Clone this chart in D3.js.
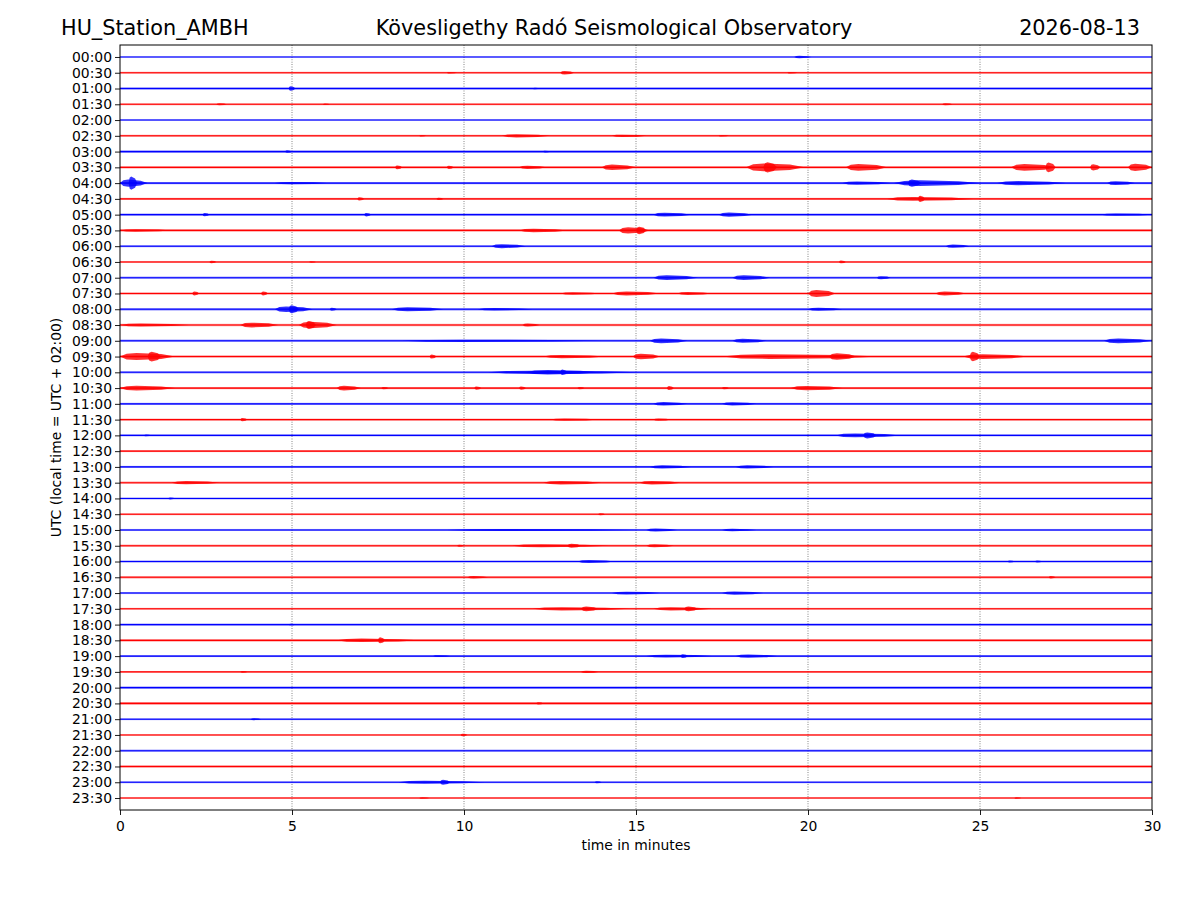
<!DOCTYPE html>
<html>
<head>
<meta charset="utf-8">
<script src="https://cdn.jsdelivr.net/npm/d3@7"></script>
<style>
  body { margin: 0; background: #fff; }
  text { font-family: "DejaVu Sans", sans-serif; }
</style>
</head>
<body>
<script>
(function() {

	var width = 1200;
	var height = 900;
	var margin = {top: 45, right: 48, bottom: 90, left: 120};

	// row labels (UTC start of each 30 minute line)
	var timeLabels = ["00:00","00:30","01:00","01:30","02:00","02:30","03:00","03:30",
		"04:00","04:30","05:00","05:30","06:00","06:30","07:00","07:30",
		"08:00","08:30","09:00","09:30","10:00","10:30","11:00","11:30",
		"12:00","12:30","13:00","13:30","14:00","14:30","15:00","15:30",
		"16:00","16:30","17:00","17:30","18:00","18:30","19:00","19:30",
		"20:00","20:30","21:00","21:30","22:00","22:30","23:00","23:30"];
	var minuteTicks = [0, 5, 10, 15, 20, 25, 30];
	var traceColors = ["#0000ff", "#ff0000"];

	// background noise level of each line (fraction of half line spacing)
	var noise = [0.08,0.12,0.16,0.12,0.09,0.13,0.16,0.14,
		0.14,0.13,0.14,0.15,0.13,0.12,0.14,0.14,
		0.16,0.15,0.15,0.15,0.14,0.14,0.13,0.12,
		0.12,0.12,0.13,0.14,0.12,0.12,0.13,0.14,
		0.13,0.15,0.13,0.12,0.13,0.15,0.12,0.1,
		0.15,0.17,0.12,0.1,0.14,0.16,0.12,0.1];

	// bursts: [row, start minute, end minute, amplitude]
	var bursts = [
		[0, 19.6, 20.1, 0.15],
		[1, 12.8, 13.2, 0.22], [1, 9.5, 9.8, 0.1], [1, 19.4, 19.7, 0.1],
		[2, 4.9, 5.1, 0.28], [2, 12.0, 12.2, 0.1],
		[3, 2.8, 3.1, 0.12], [3, 5.9, 6.1, 0.1], [3, 23.9, 24.2, 0.12],
		[5, 11.1, 12.5, 0.2], [5, 8.7, 8.9, 0.1], [5, 14.3, 15.3, 0.15], [5, 17.4, 17.7, 0.1],
		[6, 4.8, 5.0, 0.16], [6, 12.3, 12.5, 0.12],
		[7, 8.0, 8.2, 0.25], [7, 9.5, 9.7, 0.2], [7, 11.6, 12.4, 0.2], [7, 14.0, 15.0, 0.35],
		[7, 18.2, 19.9, 0.5], [7, 18.7, 19.1, 0.65], [7, 21.1, 22.3, 0.42],
		[7, 25.9, 27.2, 0.42], [7, 26.9, 27.2, 0.62], [7, 28.2, 28.5, 0.4], [7, 29.3, 30.0, 0.45],
		[8, 0.0, 0.8, 0.45], [8, 0.25, 0.5, 0.85], [8, 4.5, 6.0, 0.14], [8, 21.0, 22.4, 0.2],
		[8, 22.5, 25.0, 0.35], [8, 22.9, 23.3, 0.45], [8, 25.5, 27.5, 0.26], [8, 28.7, 29.5, 0.25],
		[9, 6.9, 7.1, 0.2], [9, 9.2, 9.4, 0.15], [9, 22.3, 24.8, 0.25], [9, 23.2, 23.4, 0.4],
		[10, 2.4, 2.6, 0.2], [10, 7.1, 7.3, 0.22], [10, 15.5, 16.6, 0.25], [10, 17.4, 18.4, 0.26],
		[10, 28.5, 30.0, 0.15],
		[11, 0.0, 1.5, 0.16], [11, 11.6, 13.0, 0.22], [11, 14.5, 15.4, 0.4], [11, 15.0, 15.3, 0.48],
		[12, 10.8, 11.8, 0.25], [12, 24.0, 24.7, 0.2],
		[13, 2.6, 2.8, 0.15], [13, 5.5, 5.7, 0.1], [13, 20.9, 21.1, 0.18],
		[14, 15.5, 16.8, 0.3], [14, 17.8, 18.9, 0.3], [14, 22.0, 22.4, 0.2],
		[15, 2.1, 2.3, 0.25], [15, 4.1, 4.3, 0.25], [15, 12.8, 14.0, 0.15], [15, 14.3, 15.7, 0.25],
		[15, 16.2, 17.2, 0.18], [15, 20.0, 20.8, 0.45], [15, 23.7, 24.6, 0.25],
		[16, 4.5, 5.6, 0.35], [16, 4.9, 5.2, 0.5], [16, 6.1, 6.3, 0.2], [16, 7.9, 9.4, 0.25],
		[16, 10.4, 12.0, 0.15], [16, 20.0, 21.0, 0.2],
		[17, 0.0, 2.0, 0.2], [17, 3.5, 4.6, 0.3], [17, 5.2, 6.3, 0.4], [17, 5.4, 5.7, 0.5],
		[17, 11.7, 12.2, 0.2],
		[18, 8.2, 14.0, 0.14], [18, 15.4, 16.5, 0.3], [18, 17.8, 18.8, 0.25], [18, 28.6, 30.0, 0.3],
		[19, 0.0, 1.6, 0.45], [19, 0.8, 1.2, 0.62], [19, 9.0, 9.2, 0.25], [19, 12.3, 14.1, 0.2],
		[19, 14.9, 15.7, 0.35], [19, 17.5, 22.1, 0.3], [19, 20.6, 21.4, 0.42],
		[19, 24.5, 26.4, 0.3], [19, 24.7, 25.0, 0.6],
		[20, 10.7, 15.1, 0.2], [20, 11.8, 13.9, 0.28], [20, 12.8, 13.0, 0.35],
		[21, 0.0, 1.6, 0.3], [21, 6.3, 7.0, 0.3], [21, 7.6, 7.8, 0.15], [21, 10.3, 10.5, 0.2],
		[21, 11.6, 11.8, 0.2], [21, 13.3, 13.5, 0.15], [21, 15.9, 16.1, 0.25],
		[21, 17.5, 17.7, 0.15], [21, 19.5, 21.0, 0.28],
		[22, 15.5, 16.5, 0.22], [22, 17.5, 18.5, 0.2],
		[23, 3.5, 3.7, 0.2], [23, 12.5, 13.9, 0.15], [23, 15.5, 16.0, 0.15],
		[24, 0.7, 0.9, 0.12], [24, 20.8, 22.7, 0.25], [24, 21.6, 22.0, 0.38],
		[26, 15.4, 16.6, 0.2], [26, 17.9, 19.0, 0.2],
		[27, 1.5, 2.9, 0.2], [27, 12.3, 14.0, 0.22], [27, 15.1, 16.3, 0.22],
		[28, 1.4, 1.6, 0.12],
		[29, 13.9, 14.1, 0.12],
		[30, 9.5, 15.1, 0.13], [30, 15.3, 16.2, 0.2], [30, 17.5, 18.5, 0.15],
		[31, 9.8, 10.0, 0.12], [31, 11.4, 14.2, 0.18], [31, 13.0, 13.4, 0.25], [31, 15.3, 16.1, 0.2],
		[32, 13.3, 14.4, 0.2], [32, 25.8, 26.0, 0.12], [32, 26.6, 26.8, 0.12],
		[33, 10.1, 10.7, 0.15], [33, 27.0, 27.2, 0.15],
		[34, 14.3, 15.7, 0.18], [34, 17.5, 18.7, 0.2],
		[35, 12.0, 14.8, 0.2], [35, 13.4, 13.9, 0.3], [35, 15.5, 17.2, 0.2], [35, 16.4, 16.8, 0.3],
		[36, 4.9, 5.1, 0.1],
		[37, 6.3, 8.7, 0.22], [37, 7.5, 7.7, 0.38],
		[38, 9.1, 9.6, 0.12], [38, 15.3, 17.2, 0.18], [38, 16.3, 16.5, 0.25], [38, 17.9, 19.1, 0.2],
		[39, 13.4, 13.9, 0.15], [39, 3.5, 3.7, 0.1],
		[41, 12.1, 12.3, 0.15],
		[42, 3.8, 4.1, 0.12],
		[43, 9.9, 10.1, 0.15],
		[46, 8.1, 10.6, 0.2], [46, 9.3, 9.6, 0.32], [46, 13.8, 14.0, 0.12],
		[47, 8.7, 9.0, 0.1], [47, 26.0, 26.2, 0.1]
	];

	var svg = d3.select('body')
		.append('svg')
			.attr('width', width)
			.attr('height', height);

	var x = d3.scaleLinear()
		.domain([0, 30])
		.range([margin.left, width - margin.right]);

	var y = d3.scaleLinear()
		.domain([-0.76, timeLabels.length - 0.24])
		.range([margin.top, height - margin.bottom]);

	var step = y(1) - y(0);
	var amp = d3.scaleLinear().domain([0, 1]).range([0, step / 2]);

	// dotted minute grid
	svg.append('g')
		.selectAll('line')
		.data(minuteTicks.slice(1, -1))
		.enter()
		.append('line')
			.attr('x1', d => x(d))
			.attr('x2', d => x(d))
			.attr('y1', margin.top)
			.attr('y2', height - margin.bottom)
			.style('stroke', '#444')
			.style('stroke-width', 0.8)
			.style('stroke-dasharray', '0.8,1.6');

	var traces = svg.append('g');

	// noise band + base line for every row
	timeLabels.forEach(function(label, i) {
		var c = traceColors[i % 2];
		traces.append('rect')
			.attr('x', x(0))
			.attr('width', x(30) - x(0))
			.attr('y', y(i) - amp(noise[i]))
			.attr('height', 2 * amp(noise[i]))
			.style('fill', c)
			.style('opacity', 0.45);
		traces.append('line')
			.attr('x1', x(0))
			.attr('x2', x(30))
			.attr('y1', y(i))
			.attr('y2', y(i))
			.style('stroke', c)
			.style('stroke-width', 1.1);
	});

	// bursts as envelopes around the row line
	var env = d3.area()
		.x(d => x(d[0]))
		.y0(d => d[2] - amp(d[1]))
		.y1(d => d[2] + amp(d[1]));

	bursts.forEach(function(b) {
		var row = b[0], t0 = b[1], t1 = b[2], a = b[3];
		var w = t1 - t0;
		var pts = [
			[t0, 0, y(row)],
			[t0 + w * 0.12, a * 0.8, y(row)],
			[t0 + w * 0.3, a, y(row)],
			[t0 + w * 0.75, a * 0.7, y(row)],
			[t1, 0, y(row)]
		];
		traces.append('path')
			.attr('d', env(pts))
			.style('fill', traceColors[row % 2])
			.style('opacity', 0.8);
	});

	// axes
	var xAxis = d3.axisBottom(x)
		.tickValues(minuteTicks)
		.tickFormat(d3.format('d'))
		.tickSizeOuter(0)
		.tickSize(5);

	var yAxis = d3.axisLeft(y)
		.tickValues(d3.range(timeLabels.length))
		.tickFormat(i => timeLabels[i])
		.tickSizeOuter(0)
		.tickSize(5);

	var gx = svg.append('g')
		.attr('transform', 'translate(0,' + (height - margin.bottom) + ')')
		.call(xAxis);

	var gy = svg.append('g')
		.attr('transform', 'translate(' + margin.left + ',0)')
		.call(yAxis);

	[gx, gy].forEach(function(g) {
		g.select('.domain').remove();
		g.selectAll('text')
			.style('font-family', '"DejaVu Sans", sans-serif')
			.style('font-size', '13.9px')
			.style('fill', '#000');
		g.selectAll('line').style('stroke', '#000').style('stroke-width', 0.9);
	});
	gx.selectAll('text').attr('dy', '0.95em');

	// frame
	svg.append('rect')
		.attr('x', margin.left)
		.attr('y', margin.top)
		.attr('width', width - margin.left - margin.right)
		.attr('height', height - margin.top - margin.bottom)
		.style('fill', 'none')
		.style('stroke', '#000')
		.style('stroke-width', 1);

	// titles and labels
	svg.append('text')
		.attr('x', 61)
		.attr('y', 35)
		.style('font-size', '20.8px')
		.text('HU_Station_AMBH');

	svg.append('text')
		.attr('x', 614)
		.attr('y', 35)
		.attr('text-anchor', 'middle')
		.style('font-size', '20.8px')
		.text('Kövesligethy Radó Seismological Observatory');

	svg.append('text')
		.attr('x', 1140)
		.attr('y', 35)
		.attr('text-anchor', 'end')
		.style('font-size', '20.8px')
		.text('2026-08-13');

	svg.append('text')
		.attr('x', (margin.left + width - margin.right) / 2)
		.attr('y', 850)
		.attr('text-anchor', 'middle')
		.style('font-size', '13.9px')
		.text('time in minutes');

	svg.append('text')
		.attr('transform', 'translate(61,' + ((margin.top + height - margin.bottom) / 2) + ') rotate(-90)')
		.attr('text-anchor', 'middle')
		.style('font-size', '13.9px')
		.text('UTC (local time = UTC + 02:00)');

})();
</script>
</body>
</html>
